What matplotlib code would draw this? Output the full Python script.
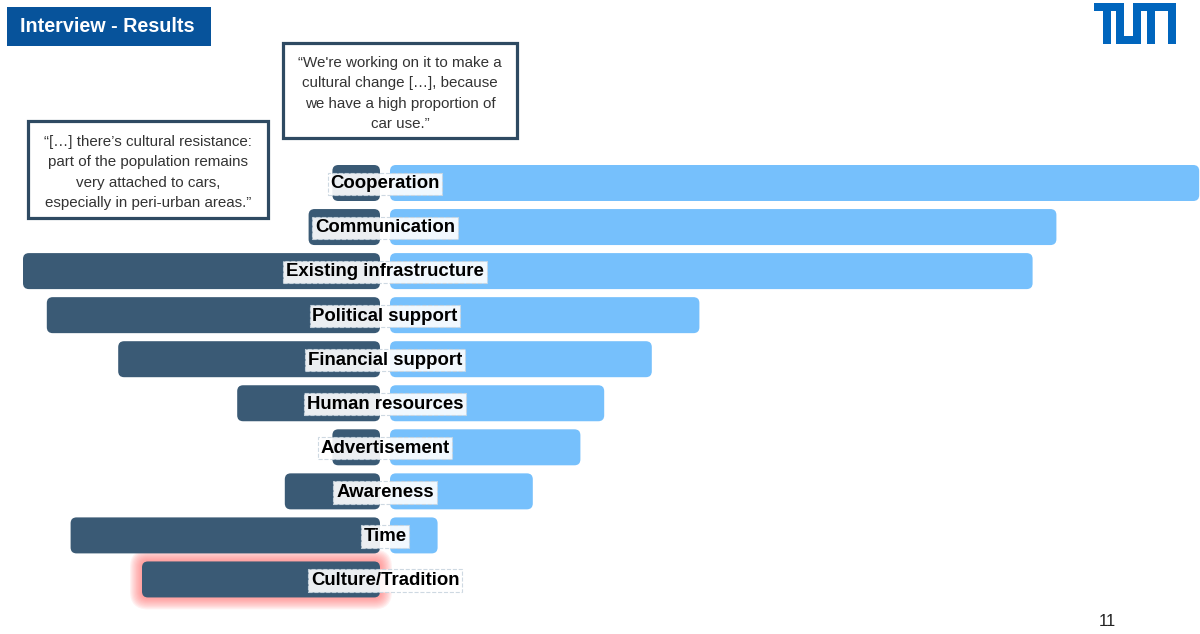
import matplotlib.pyplot as plt
from matplotlib.patches import FancyBboxPatch, Rectangle

# Interview results: mentions per factor (left = hindering, right = supporting)
CATEGORIES = ["Cooperation", "Communication", "Existing infrastructure",
              "Political support", "Financial support", "Human resources",
              "Advertisement", "Awareness", "Time", "Culture/Tradition"]
BARRIERS = [2, 3, 15, 14, 11, 6, 2, 4, 13, 10]
DRIVERS = [34, 28, 27, 13, 11, 9, 8, 6, 2, 0]
HIGHLIGHT = "Culture/Tradition"

QUOTE_LEFT = ("\u201c[\u2026] there\u2019s cultural resistance:\n"
              "part of the population remains\n"
              "very attached to cars,\n"
              "especially in peri-urban areas.\u201d")
QUOTE_RIGHT = ("\u201cWe're working on it to make a\n"
               "cultural change [\u2026], because\n"
               "we have a high proportion of\n"
               "car use.\u201d")

DARK = "#3a5a75"
LIGHT = "#76c0fc"
GLOW = "#ff6e6e"
TUM_BLUE = "#0065bd"

W, H = 1200, 634
plt.rcParams['font.family'] = ['Liberation Sans', 'DejaVu Sans']

fig = plt.figure(figsize=(W / 100, H / 100), dpi=100)

# slide layer in pixel coordinates
slide = fig.add_axes([0, 0, 1, 1])
slide.set_xlim(0, W)
slide.set_ylim(H, 0)
slide.axis("off")

# chart layer: 1 x-unit = UX px, rows UY px apart, centre line at X0
UX, UY, X0, Y0 = 23.8, 44.05, 385, 183
ax = fig.add_axes([0, 0, 1, 1])
ax.set_xlim(-X0 / UX, (W - X0) / UX)
ax.set_ylim((H - Y0) / UY, -Y0 / UY)
ax.axis("off")
aspect = UX / UY
gap = 5 / UX
bar_h = 36 / UY


def rounded_bar(x, y, w, color, pad=0.0, alpha=1.0, z=2):
    p = FancyBboxPatch((x, y - bar_h / 2), w, bar_h,
                       boxstyle=f"round,pad={pad},rounding_size={0.25 + pad}",
                       mutation_aspect=aspect, fc=color, ec="none",
                       alpha=alpha, zorder=z)
    ax.add_patch(p)


for i, (cat, left, right) in enumerate(zip(CATEGORIES, BARRIERS, DRIVERS)):
    if cat == HIGHLIGHT:
        for k in range(10, 0, -1):
            rounded_bar(-gap - left, i, left, GLOW, pad=k * 1.2 / UX,
                        alpha=0.09, z=1)
    if left:
        rounded_bar(-gap - left, i, left, DARK)
    if right:
        rounded_bar(gap, i, right, LIGHT)
    ax.text(0, i + 0.02, cat, ha="center", va="center", fontsize=13.4,
            fontweight="bold", color="black", zorder=5,
            bbox=dict(boxstyle="square,pad=0.15", fc="white", alpha=0.9,
                      ec="#c9d5df", ls="--", lw=0.8))

# title box
slide.add_patch(Rectangle((7, 7), 204, 39, fc="#07539b", ec="none"))
slide.text(20, 27, "Interview - Results", color="white", fontsize=14.2,
           fontweight="bold", va="center", ha="left")

# TUM logo
logo = [(1094, 3, 30, 8), (1103, 3, 8, 41), (1116, 3, 8, 41),
        (1116, 36, 25, 8), (1133, 3, 8, 41), (1133, 3, 43, 8),
        (1147, 3, 8, 41), (1168, 3, 8, 41)]
for x, y, w, h in logo:
    slide.add_patch(Rectangle((x, y), w, h, fc=TUM_BLUE, ec="none"))

# quote boxes
for (x, y, w, h), txt in [((28, 121, 240, 97), QUOTE_LEFT),
                          ((283, 43, 234, 95), QUOTE_RIGHT)]:
    slide.add_patch(Rectangle((x, y), w, h, fc="white", ec="#2e4a62",
                              lw=2.3, zorder=3))
    slide.text(x + w / 2, y + h / 2 + 3, txt, ha="center", va="center",
               fontsize=10.9, color="#333333", linespacing=1.6, zorder=4)

slide.text(1107, 621, "11", ha="center", va="center", fontsize=12,
           color="#222222")

fig.savefig("out.png", dpi=100)
